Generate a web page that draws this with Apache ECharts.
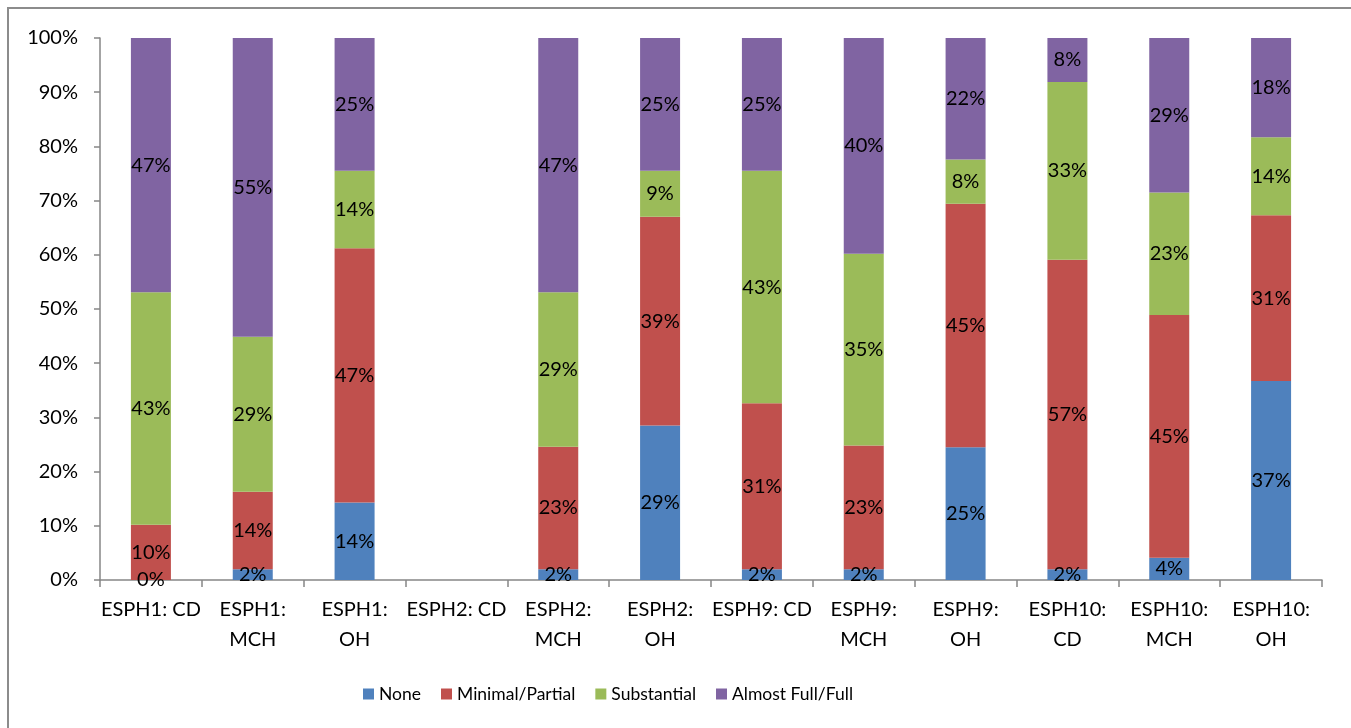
<!DOCTYPE html>
<html>
<head>
<meta charset="utf-8">
<title>ESPH compliance levels</title>
<script src="https://cdn.jsdelivr.net/npm/echarts@6/dist/echarts.min.js"></script>
<style>
  html, body { margin: 0; padding: 0; background: #ffffff; }
  #chart { width: 1351px; height: 728px; }
</style>
</head>
<body>
<div id="chart"></div>
<script>
// Site / measure categories along the x axis
const categories = [
  'ESPH1: CD', 'ESPH1: MCH', 'ESPH1: OH',
  'ESPH2: CD', 'ESPH2: MCH', 'ESPH2: OH',
  'ESPH9: CD', 'ESPH9: MCH', 'ESPH9: OH',
  'ESPH10: CD', 'ESPH10: MCH', 'ESPH10: OH'
];

// Share of each compliance level (percent); ESPH2: CD has no data
const none        = [0,    2.0,  14.3, null, 2.0,  28.5, 2.0,  2.0,  24.5, 2.0,  4.1,  36.7];
const minimal     = [10.2, 14.3, 46.9, null, 22.6, 38.5, 30.6, 22.8, 44.9, 57.1, 44.8, 30.6];
const substantial = [42.9, 28.6, 14.3, null, 28.5, 8.5,  42.9, 35.4, 8.2,  32.8, 22.6, 14.4];
const fullLevel   = [46.9, 55.1, 24.5, null, 46.9, 24.5, 24.5, 39.8, 22.4, 8.1,  28.5, 18.3];

const seriesNames = ['None', 'Minimal/Partial', 'Substantial', 'Almost Full/Full'];
const seriesData = [none, minimal, substantial, fullLevel];
const seriesColors = ['#4F81BD', '#C0504D', '#9BBB59', '#8064A2'];

// Y axis tick values (percent)
const yMin = 0, yMax = 100, yStep = 10;

const FONT = 'Lato, "Open Sans", "DejaVu Sans", sans-serif';
const AXIS_GREY = '#868686';

// Short names such as "ESPH1: CD" stay on one line, the rest wrap after the colon
function wrapCategory(name) {
  if (/^ESPH\d: CD$/.test(name)) return name;
  return name.replace(': ', ':\n');
}

const chart = echarts.init(document.getElementById('chart'), null, { renderer: 'canvas' });

const option = {
  animation: false,
  backgroundColor: '#ffffff',
  textStyle: { fontFamily: FONT },
  graphic: [{
    type: 'rect',
    silent: true,
    shape: { x: 8, y: 8, width: 1400, height: 800 },
    style: { fill: 'none', stroke: '#8c8c8c', lineWidth: 2 }
  }],
  grid: { left: 100, right: 29, top: 38, bottom: 148, containLabel: false },
  legend: {
    data: seriesNames,
    left: 358,
    top: 680,
    icon: 'rect',
    itemWidth: 11,
    itemHeight: 11,
    itemGap: 20,
    textStyle: { fontSize: 17.5, color: '#000000', fontFamily: FONT }
  },
  xAxis: {
    type: 'category',
    data: categories,
    boundaryGap: true,
    axisLine: { show: true, lineStyle: { color: AXIS_GREY, width: 1.5 } },
    axisTick: { show: true, length: 7, inside: false, lineStyle: { color: AXIS_GREY, width: 1.5 } },
    axisLabel: {
      interval: 0,
      margin: 15,
      fontSize: 20,
      lineHeight: 30,
      color: '#000000',
      fontFamily: FONT,
      formatter: wrapCategory
    },
    splitLine: { show: false }
  },
  yAxis: {
    type: 'value',
    min: yMin,
    max: yMax,
    interval: yStep,
    axisLine: { show: true, lineStyle: { color: AXIS_GREY, width: 1.5 } },
    axisTick: { show: true, length: 6, inside: false, lineStyle: { color: AXIS_GREY, width: 1.5 } },
    axisLabel: {
      margin: 22,
      fontSize: 20,
      color: '#000000',
      fontFamily: FONT,
      formatter: '{value}%'
    },
    splitLine: { show: false }
  },
  series: seriesNames.map((name, i) => ({
    name: name,
    type: 'bar',
    stack: 'share',
    barWidth: 40,
    data: seriesData[i],
    itemStyle: { color: seriesColors[i] },
    label: {
      show: true,
      position: 'inside',
      fontSize: 20,
      color: '#000000',
      fontFamily: FONT,
      textBorderWidth: 0,
      formatter: p => (p.value == null ? '' : Math.round(p.value) + '%')
    },
    emphasis: { disabled: true }
  }))
};

chart.setOption(option);
</script>
</body>
</html>
